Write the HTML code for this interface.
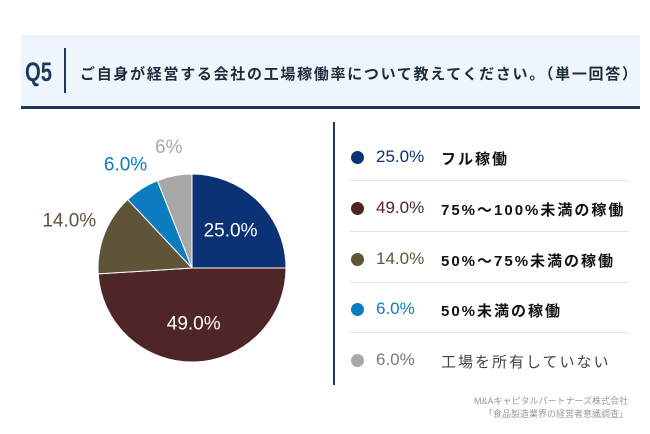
<!DOCTYPE html>
<html><head><meta charset="utf-8"><style>
body{margin:0;width:650px;height:434px;background:#fff;position:relative;overflow:hidden;font-family:"Liberation Sans","Noto Sans CJK JP",sans-serif}
.abs{position:absolute}
</style></head><body>
<div class="abs" style="left:21px;top:35px;width:619px;height:72px;background:#eef5fb"></div>
<div class="abs" style="left:21px;top:106px;width:619px;height:3px;background:#1d3a5e"></div>
<div class="abs" style="left:25px;top:57px;font-size:27px;font-weight:bold;color:#1d3a5e;transform:scaleX(0.75);transform-origin:left">Q5</div>
<div class="abs" style="left:64px;top:48px;width:2px;height:45px;background:#1d3a5e"></div>
<div class="abs" style="left:80px;top:63px;font-size:15px;font-weight:bold;color:#1d2b3a;letter-spacing:1.7px;white-space:nowrap">ご自身が経営する会社の工場稼働率について教えてください。（単一回答）</div>
<svg class="abs" style="left:0;top:0" width="650" height="434" id="pie"></svg>
<div class="abs" style="left:333px;top:122px;width:2px;height:263px;background:#1d3a5e"></div>
<div id="legend"></div>
<div class="abs" style="right:22px;top:395px;font-size:9px;color:#999;text-align:right;line-height:13px">M&amp;Aキャピタルパートナーズ株式会社<br>「食品製造業界の経営者意識調査」</div>
<script>
const categories=["フル稼働","75%～100%未満の稼働","50%～75%未満の稼働","50%未満の稼働","工場を所有していない"];
const values=[25,49,14,6,6];
const pieLabels=["25.0%","49.0%","14.0%","6.0%","6%"];
const legendLabels=["25.0%","49.0%","14.0%","6.0%","6.0%"];
const colors=["#0b3275","#4e2628","#5f5438","#0b7cc0","#a8a8a8"];
const textColors=["#0b3275","#4e2628","#5f5438","#0b7cc0","#7a7a7a"];
const labelColors=["#fff","#fff","#5f5438","#0b7cc0","#a8a8a8"];
const NS="http://www.w3.org/2000/svg";
const svg=document.getElementById('pie');
const cx=192,cy=268,r=94;
const total=values.reduce((a,b)=>a+b,0);
let a0=0;
values.forEach((v,i)=>{
  const a1=a0+v/total*2*Math.PI;
  const x0=cx+r*Math.sin(a0),y0=cy-r*Math.cos(a0),x1=cx+r*Math.sin(a1),y1=cy-r*Math.cos(a1);
  const p=document.createElementNS(NS,'path');
  p.setAttribute('d',`M${cx},${cy}L${x0},${y0}A${r},${r} 0 ${a1-a0>Math.PI?1:0} 1 ${x1},${y1}Z`);
  p.setAttribute('fill',colors[i]);p.setAttribute('stroke','#fff');p.setAttribute('stroke-width','1');
  
  
  svg.appendChild(p);
  const am=(a0+a1)/2;
  const inside=v>=20;
  const lr=inside?r*0.58:r+30+(v<10?0:8);
  const t=document.createElementNS(NS,'text');
  t.setAttribute('x',cx+lr*Math.sin(am));t.setAttribute('y',cy-lr*Math.cos(am)+7);
  t.setAttribute('text-anchor','middle');t.setAttribute('font-size','19');
  t.setAttribute('fill',labelColors[i]);
  t.setAttribute('font-family','"Liberation Sans",sans-serif');
  t.textContent=pieLabels[i];
  
  
  svg.appendChild(t);
  a0=a1;
});
const lg=document.getElementById('legend');
categories.forEach((c,i)=>{
  const y=158+i*50.8;
  const row=document.createElement('div');
  row.className='abs';row.style.cssText=`left:348px;top:${y-12}px;width:282px;height:24px`;
  
  
  row.innerHTML=`<div style="position:absolute;left:3px;top:5px;width:13px;height:13px;border-radius:50%;background:${colors[i]}"></div>
<div style="position:absolute;left:28px;top:1px;font-size:17px;color:${textColors[i]}">${legendLabels[i]}</div>
<div style="position:absolute;left:93px;top:2px;font-size:15px;font-weight:${i==4?'normal':'bold'};color:${i==4?'#444':'#111'};letter-spacing:2px;white-space:nowrap">${c}</div>`;
  lg.appendChild(row);
  if(i<4){const s=document.createElement('div');s.className='abs';
  s.style.cssText=`left:350px;top:${y+22}px;width:278px;height:1px;background:#e2e2e2`;
  
  
  lg.appendChild(s);}
});
</script>
</body></html>
